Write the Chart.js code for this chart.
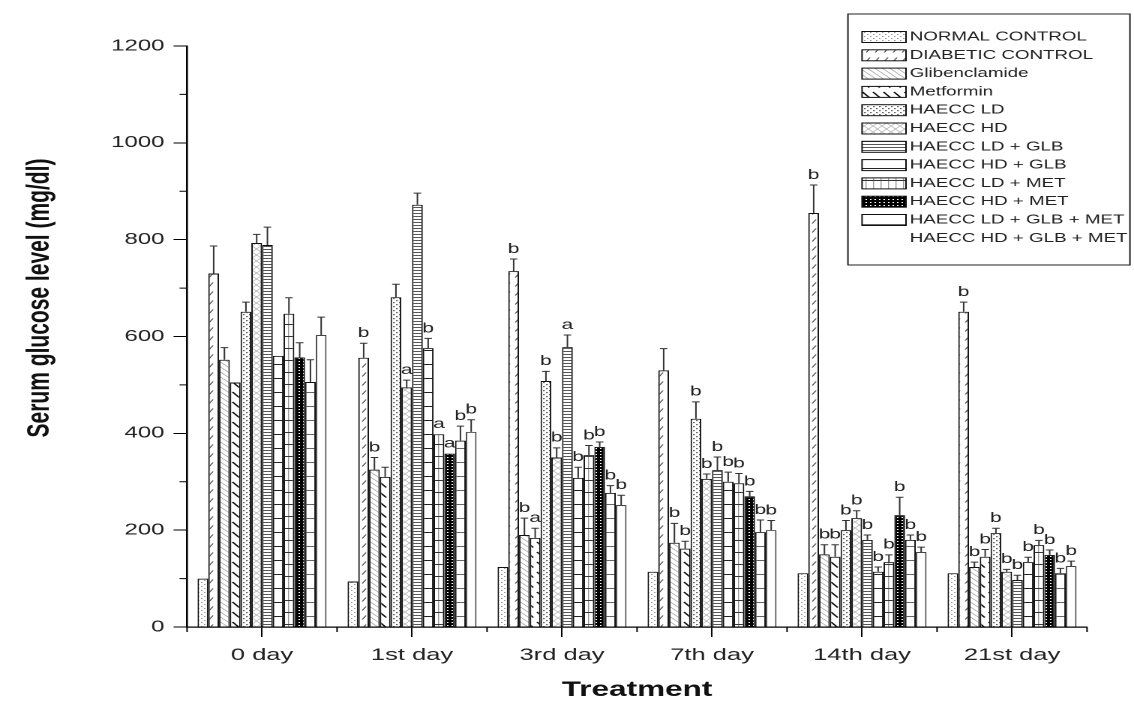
<!DOCTYPE html>
<html>
<head>
<meta charset="utf-8">
<title>Serum glucose level</title>
<script src="https://cdn.jsdelivr.net/npm/chart.js@4.4.1/dist/chart.umd.min.js"></script>
<style>
  html, body { margin: 0; padding: 0; background: #fff; overflow: hidden; }
  /* the original figure is stretched sideways, so draw narrow and stretch */
  #wrap { width: 756px; height: 708px; transform: scaleX(1.5); transform-origin: 0 0; }
</style>
</head>
<body>
<div id="wrap"><canvas id="chart" width="756" height="708"></canvas></div>
<script>
const days = ["0 day", "1st day", "3rd day", "7th day", "14th day", "21st day"];
const groups = ["NORMAL CONTROL", "DIABETIC CONTROL", "Glibenclamide", "Metformin",
  "HAECC LD", "HAECC HD", "HAECC LD + GLB", "HAECC HD + GLB", "HAECC LD + MET",
  "HAECC HD + MET", "HAECC LD + GLB + MET", "HAECC HD + GLB + MET"];

// mean glucose per group, one array per day
const day0 = [100, 730, 552, 505, 651, 793, 789, 560, 647, 557, 506, 603];
const day1 = [94, 556, 325, 310, 681, 495, 872, 576, 398, 358, 385, 403];
const day3 = [124, 735, 190, 184, 508, 350, 578, 308, 355, 372, 277, 252];
const day7 = [114, 530, 174, 162, 430, 306, 324, 300, 297, 270, 196, 200];
const day14 = [111, 855, 150, 145, 200, 225, 180, 114, 134, 231, 180, 155];
const day21 = [111, 651, 124, 145, 194, 114, 97, 134, 169, 149, 111, 126];

// error bars (upper only)
const err0 = [0, 57, 25, 0, 20, 18, 37, 0, 33, 30, 46, 37];
const err1 = [0, 30, 25, 20, 27, 15, 24, 20, 0, 0, 30, 25];
const err3 = [0, 25, 35, 20, 20, 20, 25, 22, 20, 10, 15, 20];
const err7 = [0, 45, 40, 15, 35, 10, 27, 20, 20, 10, 25, 20];
const err14 = [0, 58, 20, 25, 20, 15, 10, 10, 15, 37, 10, 10];
const err21 = [0, 20, 10, 15, 10, 5, 10, 10, 10, 10, 10, 10];

// significance letters
const sig0 = ["", "", "", "", "", "", "", "", "", "", "", ""];
const sig1 = ["", "b", "b", "", "", "a", "", "b", "a", "a", "b", "b"];
const sig3 = ["", "b", "b", "a", "b", "b", "a", "b", "b", "b", "b", "b"];
const sig7 = ["", "", "b", "b", "b", "b", "b", "b", "b", "b", "b", "b"];
const sig14 = ["", "b", "b", "b", "b", "b", "b", "b", "b", "b", "b", "b"];
const sig21 = ["", "b", "b", "b", "b", "b", "b", "b", "b", "b", "b", "b"];

const yTicks = [0, 200, 400, 600, 800, 1000, 1200];

const dayValues = [day0, day1, day3, day7, day14, day21];
const dayErrors = [err0, err1, err3, err7, err14, err21];
const daySigs = [sig0, sig1, sig3, sig7, sig14, sig21];

const FONT = "'Liberation Sans', Arial, Helvetica, sans-serif";

// --- hatch patterns ---
function makePattern(w, h, draw) {
  const c = document.createElement("canvas");
  c.width = w * 2;
  c.height = h * 2;
  const g = c.getContext("2d");
  g.scale(2, 2);
  g.fillStyle = "#fff";
  g.fillRect(0, 0, w, h);
  draw(g, w, h);
  const p = g.createPattern(c, "repeat");
  p.setTransform(new DOMMatrix().scale(0.5, 0.5));
  return p;
}
function line(g, x1, y1, x2, y2, color, lw) {
  g.strokeStyle = color;
  g.lineWidth = lw;
  g.beginPath();
  g.moveTo(x1, y1);
  g.lineTo(x2, y2);
  g.stroke();
}

const patterns = [
  makePattern(4, 4, (g) => { g.fillStyle = "#9a9a9a"; g.fillRect(0, 0, 1, 1); g.fillRect(2, 2, 1, 1); }),
  makePattern(6, 9, (g) => { line(g, 1.5, 7.5, 4, 3.5, "#555", 0.8); }),
  makePattern(5, 5, (g) => { line(g, 0, 0, 5, 5, "#999", 0.6); line(g, -1, 4, 1, 6, "#999", 0.6); line(g, 4, -1, 6, 1, "#999", 0.6); }),
  makePattern(7, 10, (g) => { line(g, 1, 2, 5.5, 7.5, "#111", 1.2); }),
  makePattern(4, 4, (g) => { g.fillStyle = "#666"; g.fillRect(0, 0, 1.2, 1.2); g.fillRect(2, 2, 1.2, 1.2); }),
  makePattern(6, 6, (g) => { line(g, 0, 0, 6, 6, "#aaa", 0.6); line(g, 0, 6, 6, 0, "#aaa", 0.6); }),
  makePattern(4, 3, (g) => { g.fillStyle = "#444"; g.fillRect(0, 0, 4, 0.9); }),
  makePattern(4, 14, (g) => { g.fillStyle = "#222"; g.fillRect(0, 0, 4, 1); }),
  makePattern(5, 12, (g) => { g.fillStyle = "#999"; g.fillRect(2, 0, 0.7, 12); g.fillStyle = "#333"; g.fillRect(0, 0, 5, 1); }),
  makePattern(3, 3, (g) => { g.fillStyle = "#000"; g.fillRect(0, 0, 3, 3); g.fillStyle = "#fff"; g.fillRect(1, 1, 1, 1); }),
  makePattern(4, 14, (g) => { g.fillStyle = "#666"; g.fillRect(0, 0, 4, 1); }),
  "#ffffff"
];

const datasets = groups.map((name, s) => ({
  label: name,
  data: dayValues.map((d) => d[s]),
  backgroundColor: patterns[s],
  borderColor: s === 11 ? "#444" : "#111",
  borderWidth: 1,
  borderSkipped: "start"
}));

// error bars and letters on top of every bar
const errorBars = {
  id: "errorBars",
  afterDatasetsDraw(chart) {
    const ctx = chart.ctx;
    const y = chart.scales.y;
    ctx.save();
    datasets.forEach((ds, s) => {
      const meta = chart.getDatasetMeta(s);
      meta.data.forEach((bar, d) => {
        const v = dayValues[d][s];
        const e = dayErrors[d][s];
        const yTop = y.getPixelForValue(v + e);
        const cap = bar.width * 0.35;
        if (e > 0) {
          ctx.strokeStyle = "#333";
          ctx.lineWidth = 1;
          ctx.beginPath();
          ctx.moveTo(bar.x, bar.y);
          ctx.lineTo(bar.x, yTop);
          ctx.moveTo(bar.x - cap, yTop);
          ctx.lineTo(bar.x + cap, yTop);
          ctx.stroke();
        }
        const letter = daySigs[d][s];
        if (letter) {
          ctx.fillStyle = "#222";
          ctx.font = "14px " + FONT;
          ctx.textAlign = "center";
          ctx.textBaseline = "bottom";
          ctx.fillText(letter, bar.x, yTop - 3);
        }
      });
    });
    ctx.restore();
  }
};

// minor ticks, y title and the boxed legend
const decorations = {
  id: "decorations",
  afterDraw(chart) {
    const ctx = chart.ctx;
    const x = chart.scales.x;
    const y = chart.scales.y;
    const area = chart.chartArea;
    ctx.save();
    ctx.strokeStyle = "#000";
    ctx.lineWidth = 1;
    ctx.beginPath();
    for (let v = 100; v < 1200; v += 200) {
      const py = y.getPixelForValue(v);
      ctx.moveTo(area.left - 5, py);
      ctx.lineTo(area.left, py);
    }
    const step = x.getPixelForValue(1) - x.getPixelForValue(0);
    for (let i = 0; i <= days.length; i++) {
      const px = x.getPixelForValue(0) + (i - 0.5) * step;
      ctx.moveTo(px, area.bottom);
      ctx.lineTo(px, area.bottom + 5);
    }
    ctx.stroke();

    // y axis title
    ctx.save();
    ctx.translate(26.7, 298);
    ctx.rotate(-Math.PI / 2);
    ctx.fillStyle = "#111";
    ctx.font = "bold 21px " + FONT;
    ctx.textAlign = "center";
    ctx.textBaseline = "middle";
    ctx.fillText("Serum glucose level (mg/dl)", 0, 0);
    ctx.restore();

    // legend
    const bx = 565.3, by = 14, bw = 188, bh = 251;
    ctx.fillStyle = "#fff";
    ctx.fillRect(bx, by, bw, bh);
    ctx.strokeStyle = "#222";
    ctx.lineWidth = 1;
    ctx.strokeRect(bx, by, bw, bh);
    groups.forEach((name, s) => {
      const ry = 37 + s * 18.3;
      ctx.fillStyle = patterns[s];
      ctx.fillRect(574.7, ry - 5.5, 29.3, 11);
      if (s < 11) {
        ctx.strokeStyle = "#111";
        ctx.strokeRect(574.7, ry - 5.5, 29.3, 11);
      }
      ctx.fillStyle = "#222";
      ctx.font = "12.5px " + FONT;
      ctx.textAlign = "left";
      ctx.textBaseline = "middle";
      ctx.fillText(name, 606.5, ry);
    });
    ctx.restore();
  }
};

new Chart(document.getElementById("chart"), {
  type: "bar",
  data: { labels: days, datasets: datasets },
  plugins: [errorBars, decorations],
  options: {
    responsive: false,
    devicePixelRatio: 2,
    animation: false,
    events: [],
    layout: { padding: { top: 46, right: 31.3, bottom: 0, left: 0 } },
    datasets: { bar: { categoryPercentage: 0.86, barPercentage: 1.0 } },
    plugins: {
      legend: { display: false },
      tooltip: { enabled: false }
    },
    scales: {
      x: {
        grid: { drawOnChartArea: false, offset: false, tickLength: 10, tickColor: "#000", tickWidth: 1 },
        border: { color: "#000", width: 1.3 },
        ticks: { color: "#222", font: { family: FONT, size: 17 }, padding: 8, maxRotation: 0 },
        title: {
          display: true,
          text: "Treatment",
          color: "#111",
          font: { family: FONT, size: 21, weight: "bold" },
          padding: { top: 0, bottom: 5 }
        },
        afterFit(scale) { scale.height = 81; }
      },
      y: {
        min: 0,
        max: 1200,
        afterBuildTicks(scale) { scale.ticks = yTicks.map((v) => ({ value: v })); },
        grid: { drawOnChartArea: false, tickLength: 9, tickColor: "#000", tickWidth: 1 },
        border: { color: "#000", width: 1.3 },
        ticks: {
          color: "#222",
          font: { family: FONT, size: 16 },
          padding: 6,
          callback: (value) => String(value)
        },
        afterFit(scale) { scale.width = 124.7; }
      }
    }
  }
});
</script>
</body>
</html>
